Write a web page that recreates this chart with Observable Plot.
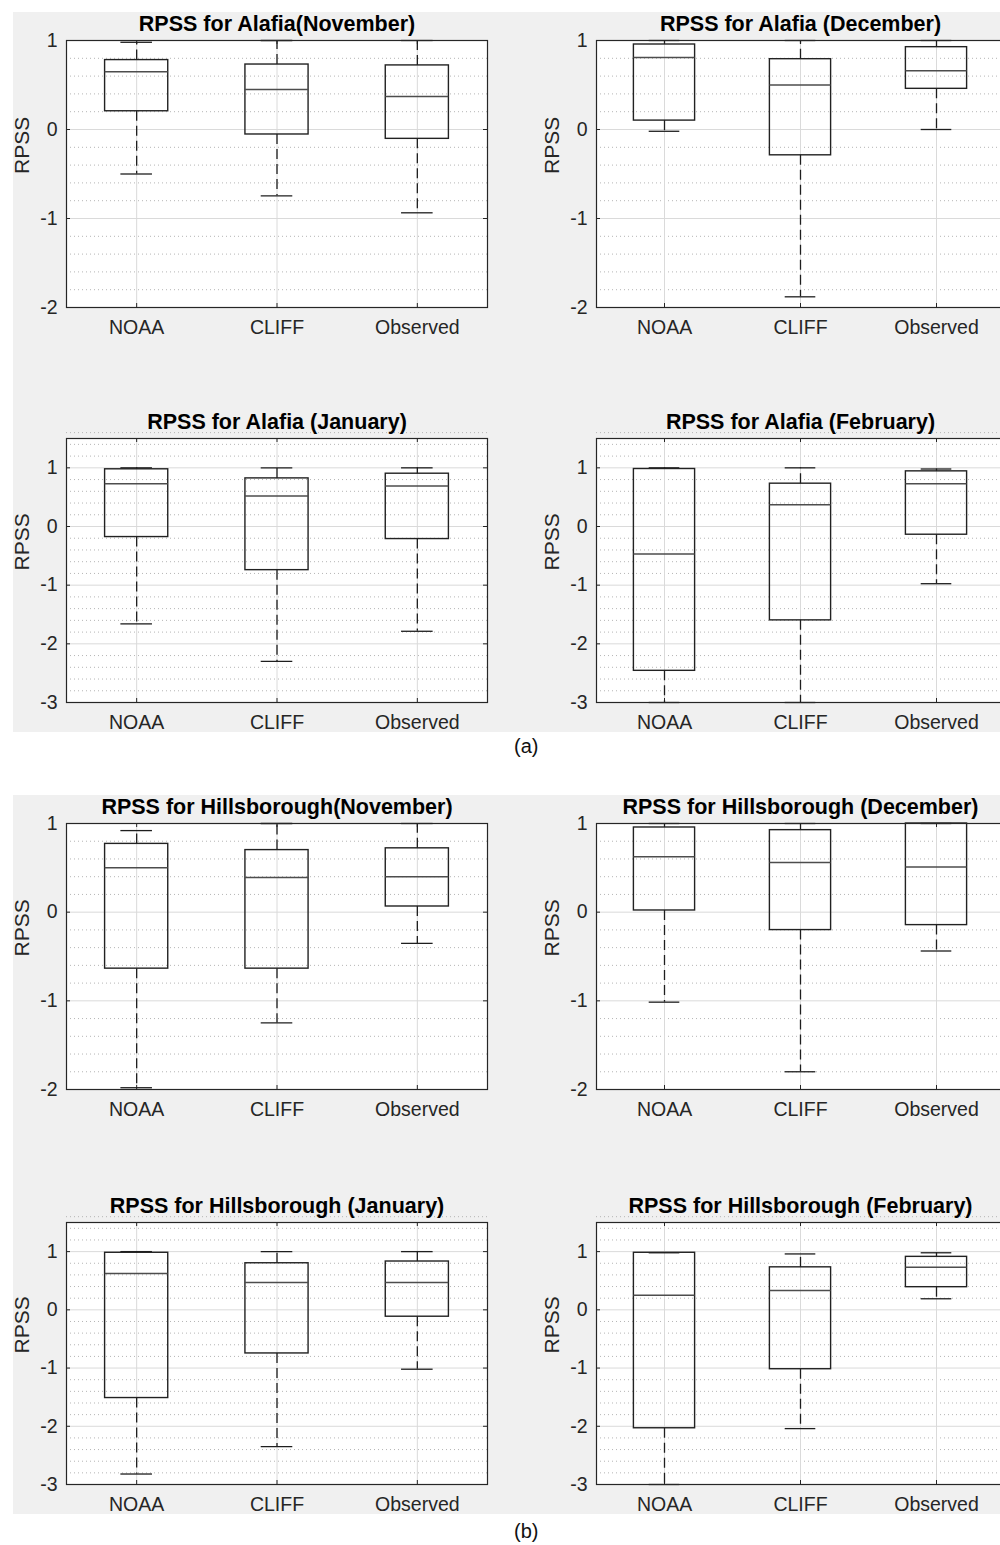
<!DOCTYPE html>
<html>
<head>
<meta charset="utf-8">
<script src="https://cdn.jsdelivr.net/npm/d3@7"></script>
<script src="https://cdn.jsdelivr.net/npm/@observablehq/plot@0.6"></script>
<style>
  html, body { margin: 0; padding: 0; background: white; }
  #page { position: relative; width: 1000px; height: 1545px; overflow: hidden; background: white;
          font-family: "Liberation Sans", Arial, sans-serif; }
  .bg { position: absolute; background: #f0f0f0; }
  .sub { position: absolute; font-size: 20px; line-height: 20px; color: #111; }
</style>
</head>
<body>
<div id="page">
  <div class="bg" style="left:13px; top:12px; width:987px; height:720px;"></div>
  <div class="bg" style="left:13px; top:795px; width:987px; height:719px;"></div>
  <div class="sub" style="left:514px; top:736px;">(a)</div>
  <div class="sub" style="left:514px; top:1521px;">(b)</div>
</div>
<script>
// ---------- data ----------
const categories = ["NOAA", "CLIFF", "Observed"];
const panelTitles = [
  "RPSS for Alafia(November)", "RPSS for Alafia (December)",
  "RPSS for Alafia (January)", "RPSS for Alafia (February)",
  "RPSS for Hillsborough(November)", "RPSS for Hillsborough (December)",
  "RPSS for Hillsborough (January)", "RPSS for Hillsborough (February)"
];
const yDomains = [[-2, 1], [-2, 1], [-3, 1.5], [-3, 1.5], [-2, 1], [-2, 1], [-3, 1.5], [-3, 1.5]];
// per panel: [NOAA, CLIFF, Observed]
const upperWhisker = [
  [0.98, 1.0, 1.0], [1.0, 1.0, 1.0], [1.0, 1.0, 1.0], [1.0, 1.0, 0.98],
  [0.92, 1.0, 1.0], [1.0, 1.0, 1.0], [1.0, 1.0, 1.0], [0.98, 0.96, 0.98]
];
const q3 = [
  [0.78, 0.73, 0.72], [0.955, 0.79, 0.925], [0.975, 0.82, 0.90], [0.98, 0.73, 0.94],
  [0.77, 0.70, 0.72], [0.955, 0.925, 1.0], [0.98, 0.80, 0.83], [0.98, 0.73, 0.91]
];
const medians = [
  [0.65, 0.45, 0.37], [0.81, 0.50, 0.66], [0.73, 0.52, 0.69], [-0.47, 0.37, 0.73],
  [0.50, 0.39, 0.40], [0.625, 0.56, 0.51], [0.625, 0.47, 0.47], [0.25, 0.33, 0.73]
];
const q1 = [
  [0.205, -0.056, -0.105], [0.10, -0.29, 0.457], [-0.18, -0.744, -0.214], [-2.46, -1.60, -0.14],
  [-0.637, -0.637, 0.064], [0.019, -0.202, -0.146], [-1.515, -0.749, -0.118], [-2.034, -1.02, 0.389]
];
const lowerWhisker = [
  [-0.50, -0.745, -0.936], [-0.02, -1.88, 0.0], [-1.66, -2.30, -1.786], [-3.0, -3.0, -0.975],
  [-1.98, -1.249, -0.352], [-1.015, -1.80, -0.438], [-2.82, -2.35, -1.02], [-3.0, -2.04, 0.19]
];

// ---------- layout ----------
const colFrame = [{left: 66, width: 421}, {left: 596, width: 408}];
const rowFrame = [{top: 40, height: 267}, {top: 438, height: 264}, {top: 823, height: 266}, {top: 1222, height: 262}];
const ML = 60, MR = 6, MT = 36, MB = 40;
const BOX_HALF = 0.225, CAP_HALF = 0.1125;
const FONT = '"Liberation Sans", Arial, sans-serif';
const fmt = d => (d < 0 ? "-" + Math.abs(d) : String(d));

const page = document.getElementById("page");

panelTitles.forEach((title, p) => {
  const col = colFrame[p % 2], row = rowFrame[Math.floor(p / 2)];
  const dom = yDomains[p];
  const rows = categories.map((c, i) => ({
    x: i + 1, lo: lowerWhisker[p][i], q1: q1[p][i], med: medians[p][i], q3: q3[p][i], hi: upperWhisker[p][i]
  }));
  const major = d3.range(Math.ceil(dom[0]), Math.floor(dom[1]) + 1);
  const minor = d3.range(Math.round(dom[0] * 5), Math.round(dom[1] * 5) + 1)
    .map(k => k / 5).filter(v => Math.abs(v - Math.round(v)) > 1e-6);
  const tickLenY = 4 / row.height * (dom[1] - dom[0]);
  const tickLenX = 4 / col.width * 3;

  const width = ML + col.width + MR, height = MT + row.height + MB;
  const chart = Plot.plot({
    width, height,
    marginLeft: ML, marginRight: MR, marginTop: MT, marginBottom: MB,
    style: `position:absolute; left:${col.left - ML}px; top:${row.top - MT}px; background:transparent; max-width:none; overflow:visible; font-family:${FONT};`,
    x: {domain: [0.5, 3.5]},
    y: {domain: dom},
    marks: [
      Plot.frame({fill: "white", stroke: "none"}),
      Plot.ruleY(minor, {stroke: "#b5b5b5", strokeDasharray: "1,3", strokeWidth: 1}),
      Plot.ruleY(major, {stroke: "#dadada", strokeWidth: 1}),
      Plot.ruleX([1, 2, 3], {stroke: "#dadada", strokeWidth: 1}),
      // inward tick marks
      Plot.ruleX([1, 2, 3], {y1: dom[0], y2: dom[0] + tickLenY, stroke: "#262626"}),
      Plot.ruleX([1, 2, 3], {y1: dom[1], y2: dom[1] - tickLenY, stroke: "#262626"}),
      Plot.ruleY(major, {x1: 0.5, x2: 0.5 + tickLenX, stroke: "#262626"}),
      Plot.ruleY(major, {x1: 3.5, x2: 3.5 - tickLenX, stroke: "#262626"}),
      // whiskers
      Plot.ruleX(rows, {x: "x", y1: "q3", y2: "hi", stroke: "#1e1e1e", strokeWidth: 1.3, strokeDasharray: "10,5"}),
      Plot.ruleX(rows, {x: "x", y1: "q1", y2: "lo", stroke: "#1e1e1e", strokeWidth: 1.3, strokeDasharray: "10,5"}),
      Plot.ruleY(rows, {y: "hi", x1: d => d.x - CAP_HALF, x2: d => d.x + CAP_HALF, stroke: "#1e1e1e", strokeWidth: 1.3}),
      Plot.ruleY(rows, {y: "lo", x1: d => d.x - CAP_HALF, x2: d => d.x + CAP_HALF, stroke: "#1e1e1e", strokeWidth: 1.3}),
      // boxes
      Plot.rect(rows, {x1: d => d.x - BOX_HALF, x2: d => d.x + BOX_HALF, y1: "q1", y2: "q3", fill: "none", stroke: "#222", strokeWidth: 1.4}),
      Plot.ruleY(rows, {y: "med", x1: d => d.x - BOX_HALF, x2: d => d.x + BOX_HALF, stroke: "#4d4d4d", strokeWidth: 1.5}),
      Plot.frame({stroke: "#262626", strokeWidth: 1.2}),
      // axes
      Plot.axisX({ticks: [1, 2, 3], tickFormat: d => categories[d - 1], tickSize: 0, tickPadding: 13,
                  fontSize: 19.5, fill: "#262626", label: null}),
      Plot.axisY({ticks: major, tickFormat: fmt, tickSize: 0, tickPadding: 9,
                  fontSize: 19.5, fill: "#262626", label: null}),
      // title & y label
      Plot.text([title], {text: d => d, frameAnchor: "top", lineAnchor: "bottom", dy: -10,
                          fontSize: 21.5, fontWeight: "bold", fill: "#000"}),
      Plot.text(["RPSS"], {text: d => d, frameAnchor: "left", dx: -44, rotate: -90,
                           fontSize: 21, fill: "#262626"})
    ]
  });
  page.appendChild(chart);
});
</script>
</body>
</html>
